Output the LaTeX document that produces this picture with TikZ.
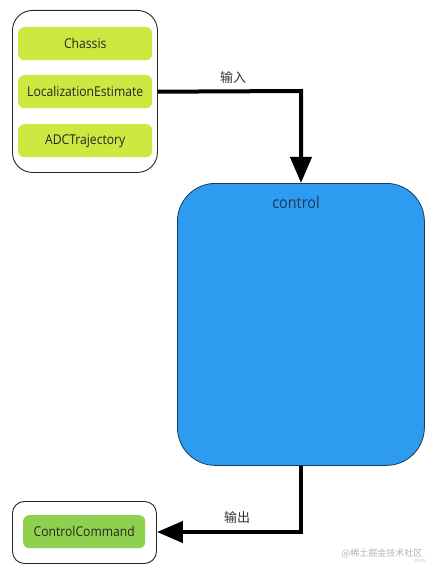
\documentclass[tikz,border=0pt]{standalone}
\usepackage{fontspec}
\setmainfont{Open Sans}
\newfontfamily\boxfont[FakeStretch=0.9]{Open Sans}
\newfontfamily\cjk{Noto Sans CJK SC}
\usetikzlibrary{arrows.meta}
\definecolor{ygreen}{HTML}{CEE741}
\definecolor{lgreen}{HTML}{8FD14F}
\definecolor{cblue}{HTML}{2D9BF0}
\definecolor{cborder}{HTML}{1A3A5A}
\tikzset{
  x=1pt,y=-1pt,
  group/.style={draw=black!85,line width=0.9pt,rounded corners=20pt,fill=white},
  item/.style={rounded corners=6pt,inner sep=0pt,anchor=north west,text=black!85,font=\boxfont\fontsize{13.5}{15}\selectfont},
  flow/.style={line width=4pt,-{Triangle[length=26pt,width=21pt]}},
  lbl/.style={font=\cjk\fontsize{13}{15}\selectfont,text=black!80},
}
\begin{document}
\begin{tikzpicture}
\useasboundingbox (0,0) rectangle (437,572);
% input group
\node[group,anchor=north west,minimum width=145pt,minimum height=162pt,inner sep=0pt] (in) at (12,10) {};
\node[item,fill=ygreen,minimum width=134pt,minimum height=33pt] (ch) at (18,27) {Chassis};
\node[item,fill=ygreen,minimum width=134pt,minimum height=33pt] (le) at (18,75) {LocalizationEstimate};
\node[item,fill=ygreen,minimum width=134pt,minimum height=33pt] (adc) at (18,124) {ADCTrajectory};
% control
\node[draw=cborder,line width=0.8pt,fill=cblue,rounded corners=38pt,anchor=north west,minimum width=247pt,minimum height=282pt,inner sep=0pt] (ctl) at (177,183) {};
\node[anchor=center,text=cborder,font=\boxfont\fontsize{16}{18}\selectfont] (ctltext) at (296,202) {control};
% output group
\node[group,rounded corners=12pt,anchor=north west,minimum width=144pt,minimum height=62pt,inner sep=0pt] (out) at (12,501) {};
\node[item,fill=lgreen,minimum width=122pt,minimum height=33pt] (cc) at (23,515) {ControlCommand};
% connectors
\coordinate (c1) at (301,91);
\coordinate (c2) at (301,532);
\draw[flow] (le.east -| in.east) -- (c1) -- (ctl.north -| c1);
\draw[flow] (ctl.south -| c2) -- (c2) -- (out.east |- c2);
\node[lbl] (l1) at (233,78) {输入};
\node[lbl] (l2) at (237,518) {输出};
% watermark
\node[font=\cjk\fontsize{9}{10}\selectfont,text=black!30] (wm) at (382,553) {@稀土掘金技术社区};
\node[font=\fontsize{5}{6}\selectfont,text=black!25] (miro) at (420,561) {miro};
\end{tikzpicture}
\end{document}
